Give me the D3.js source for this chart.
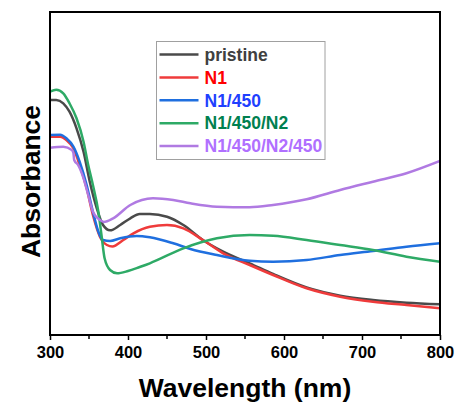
<!DOCTYPE html>
<html>
<head>
<meta charset="utf-8">
<script src="https://cdn.jsdelivr.net/npm/d3@7"></script>
<style>
  html, body { margin: 0; padding: 0; background: #fff; }
  svg { display: block; font-family: "Liberation Sans", Arial, sans-serif; }
</style>
</head>
<body>
<svg id="chart" width="455" height="405"></svg>
<script>
// UV-vis absorbance spectra: [wavelength (nm), absorbance (a.u.)]
const pristine = [
  [300, 2.35], [308, 2.35], [317, 2.317], [325, 2.233], [334, 2.067], [343, 1.833],
  [351, 1.533], [360, 1.267], [368, 1.10], [377, 1.047], [390, 1.10], [403, 1.167],
  [415, 1.21], [428, 1.21], [450, 1.183], [471, 1.10], [496, 0.95], [522, 0.833],
  [556, 0.717], [586, 0.61], [629, 0.475], [672, 0.393], [714, 0.35], [757, 0.323],
  [800, 0.307]
];
const n1 = [
  [300, 1.983], [313, 1.983], [321, 1.95], [330, 1.867], [338, 1.70], [347, 1.467],
  [355, 1.20], [364, 0.983], [373, 0.90], [380, 0.885], [394, 0.95], [407, 1.017],
  [428, 1.083], [450, 1.10], [471, 1.067], [496, 0.95], [522, 0.817], [556, 0.70],
  [586, 0.60], [629, 0.467], [672, 0.383], [714, 0.333], [757, 0.30], [800, 0.267]
];
const n1_450 = [
  [300, 2.00], [313, 2.003], [321, 1.967], [330, 1.883], [338, 1.733], [347, 1.50],
  [355, 1.233], [362, 1.033], [368, 0.95], [377, 0.94], [390, 0.967], [411, 0.99],
  [428, 0.977], [458, 0.917], [480, 0.86], [514, 0.80], [556, 0.743], [586, 0.733],
  [629, 0.75], [672, 0.80], [714, 0.84], [757, 0.883], [800, 0.917]
];
const n1_450_n2 = [
  [300, 2.433], [308, 2.453], [317, 2.417], [325, 2.317], [334, 2.167], [343, 1.933],
  [349, 1.70], [355, 1.50], [362, 1.233], [366, 1.00], [370, 0.767], [377, 0.65],
  [386, 0.617], [400, 0.64], [415, 0.68], [428, 0.717], [471, 0.867], [514, 0.967],
  [556, 1.00], [586, 0.993], [629, 0.95], [672, 0.90], [714, 0.85], [757, 0.783],
  [800, 0.733]
];
const n1_450_n2_450 = [
  [300, 1.873], [317, 1.883], [328, 1.85], [330, 1.82], [331, 1.75], [336, 1.70],
  [343, 1.567], [349, 1.40], [355, 1.233], [364, 1.15], [369, 1.13], [381, 1.167],
  [403, 1.30], [432, 1.367], [458, 1.35], [480, 1.317], [514, 1.283], [556, 1.277],
  [586, 1.30], [629, 1.357], [672, 1.45], [714, 1.533], [757, 1.617], [800, 1.74]
];

const seriesNames = ["pristine", "N1", "N1/450", "N1/450/N2", "N1/450/N2/450"];
const seriesData = [pristine, n1, n1_450, n1_450_n2, n1_450_n2_450];
const lineColors = ["#4a4a4a", "#ef3b3b", "#1f6fdf", "#2eaa66", "#b07ae2"];
const labelColors = ["#404040", "#ff0000", "#1f3fff", "#00804f", "#b070ff"];
const xTicks = [300, 400, 500, 600, 700, 800];
const xMinorTicks = [350, 450, 550, 650, 750];

const svg = d3.select("#chart");
const plot = { left: 50, right: 440, top: 12, bottom: 335 };

const x = d3.scaleLinear().domain([300, 800]).range([plot.left, plot.right]);
const y = d3.scaleLinear().domain([0, 3.23]).range([plot.bottom, plot.top]);

svg.append("defs").append("clipPath").attr("id", "plot-clip")
  .append("rect")
  .attr("x", plot.left).attr("y", plot.top)
  .attr("width", plot.right - plot.left).attr("height", plot.bottom - plot.top);

// Spectra
const line = d3.line()
  .x(d => x(d[0]))
  .y(d => y(d[1]))
  .curve(d3.curveMonotoneX);

const gLines = svg.append("g").attr("clip-path", "url(#plot-clip)");
seriesData.forEach((data, i) => {
  gLines.append("path")
    .datum(data)
    .attr("fill", "none")
    .attr("stroke", lineColors[i])
    .attr("stroke-width", 2.5)
    .attr("stroke-linejoin", "round")
    .attr("d", line);
});

// Bottom axis with major and minor ticks
const xAxis = d3.axisBottom(x).tickValues(xTicks).tickSize(5).tickSizeOuter(0).tickPadding(6);
const gx = svg.append("g").attr("transform", `translate(0,${plot.bottom})`).call(xAxis);
gx.select(".domain").remove();
gx.selectAll(".tick line").attr("stroke", "#000").attr("stroke-width", 1.5);
gx.selectAll(".tick text")
  .attr("fill", "#000")
  .style("font-size", "16.5px")
  .style("font-weight", "bold")
  .style("font-family", "'Liberation Sans', Arial, sans-serif");

svg.append("g").selectAll("line.minor")
  .data(xMinorTicks).enter().append("line")
  .attr("x1", d => x(d)).attr("x2", d => x(d))
  .attr("y1", plot.bottom).attr("y2", plot.bottom + 4)
  .attr("stroke", "#000").attr("stroke-width", 1.5);

// Frame
svg.append("rect")
  .attr("x", plot.left).attr("y", plot.top)
  .attr("width", plot.right - plot.left).attr("height", plot.bottom - plot.top)
  .attr("fill", "none").attr("stroke", "#000").attr("stroke-width", 2);

// Axis titles
svg.append("text")
  .attr("x", (plot.left + plot.right) / 2 + 0)
  .attr("y", 397)
  .attr("text-anchor", "middle")
  .style("font-size", "26.5px").style("font-weight", "bold")
  .text("Wavelength (nm)");

svg.append("text")
  .attr("transform", "translate(40,181.5) rotate(-90)")
  .attr("text-anchor", "middle")
  .style("font-size", "26.5px").style("font-weight", "bold")
  .text("Absorbance");

// Legend
const legend = svg.append("g");
legend.append("rect")
  .attr("x", 156.5).attr("y", 41.5).attr("width", 168.5).attr("height", 118)
  .attr("fill", "#fff").attr("stroke", "#a0a0a0").attr("stroke-width", 1);

const rowY = d3.scaleLinear().domain([0, 4]).range([54.5, 146]);
seriesNames.forEach((name, i) => {
  const cy = rowY(i);
  legend.append("line")
    .attr("x1", 159.5).attr("x2", 198.5)
    .attr("y1", cy).attr("y2", cy)
    .attr("stroke", lineColors[i]).attr("stroke-width", 2.5);
  legend.append("text")
    .attr("x", 204.5).attr("y", cy + 6.3)
    .attr("fill", labelColors[i])
    .style("font-size", "17.5px").style("font-weight", "bold")
    .text(name);
});
</script>
</body>
</html>
